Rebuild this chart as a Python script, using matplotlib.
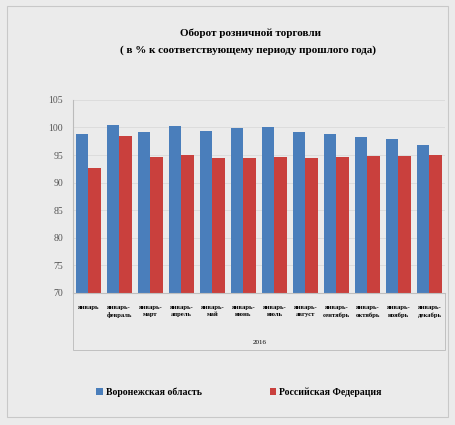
import matplotlib.pyplot as plt
import matplotlib.patches as patches
import numpy as np

periods = ["январь", "январь-\nфевраль", "январь-\nмарт", "январь-\nапрель", "январь-\nмай",
           "январь-\nиюнь", "январь-\nиюль", "январь-\nавгуст", "январь-\nсентябрь",
           "январь-\nоктябрь", "январь-\nноябрь", "январь-\nдекабрь"]
voronezh = [98.8, 100.4, 99.1, 100.2, 99.4, 99.9, 100.0, 99.1, 98.8, 98.2, 97.9, 96.8]
russia = [92.7, 98.5, 94.7, 95.0, 94.4, 94.4, 94.6, 94.4, 94.7, 94.8, 94.9, 95.0]
year_label = "2016"
series_names = ["Воронежская область", "Российская Федерация"]

plt.rcParams['font.family'] = ['Liberation Serif', 'DejaVu Serif']

fig = plt.figure(figsize=(4.55, 4.25), dpi=100, facecolor='#ebebeb')
fig.patches.append(patches.Rectangle((0.015, 0.02), 0.97, 0.965, transform=fig.transFigure,
                                     fill=False, edgecolor='#c8c8c8', linewidth=0.8))

ax = fig.add_axes([0.16, 0.311, 0.818, 0.454])
ax.set_facecolor('none')

x = np.arange(len(periods))
w = 0.4
ax.bar(x - w/2, voronezh, w, color='#4a7ebb', label=series_names[0])
ax.bar(x + w/2, russia, w, color='#c9403d', label=series_names[1])

ax.set_ylim(70, 105)
ax.set_xlim(-0.5, len(periods) - 0.5)
ax.set_yticks(range(70, 106, 5))
ax.tick_params(axis='y', labelsize=7, colors='#555555', length=0, pad=7)
ax.set_xticks(x)
ax.set_xticklabels(periods, fontsize=4.8, fontweight='bold', linespacing=1.4)
ax.tick_params(axis='x', length=0, pad=9)
ax.grid(axis='y', color='#dadada', linewidth=0.6)
ax.set_axisbelow(True)
for s in ['top', 'right']:
    ax.spines[s].set_visible(False)
ax.spines['left'].set_color('#bbbbbb')
ax.spines['bottom'].set_color('#bbbbbb')

# box round the two-level category axis
box = patches.Rectangle((0.16, 0.176), 0.818, 0.135, transform=fig.transFigure,
                        fill=False, edgecolor='#c0c0c0', linewidth=0.7)
fig.patches.append(box)
fig.text(0.57, 0.195, year_label, fontsize=5, ha='center', va='center')

fig.text(0.55, 0.915, "Оборот розничной торговли", fontsize=8, fontweight='bold', ha='center')
fig.text(0.545, 0.875, "( в % к соответствующему периоду прошлого года)", fontsize=8,
         fontweight='bold', ha='center')

fig.legend(loc='center', bbox_to_anchor=(0.525, 0.077), ncol=2, frameon=False,
           prop={'size': 7, 'weight': 'bold'}, handlelength=0.7, handleheight=0.7,
           columnspacing=7, handletextpad=0.3)

plt.savefig("out.png", dpi=100, facecolor=fig.get_facecolor())
